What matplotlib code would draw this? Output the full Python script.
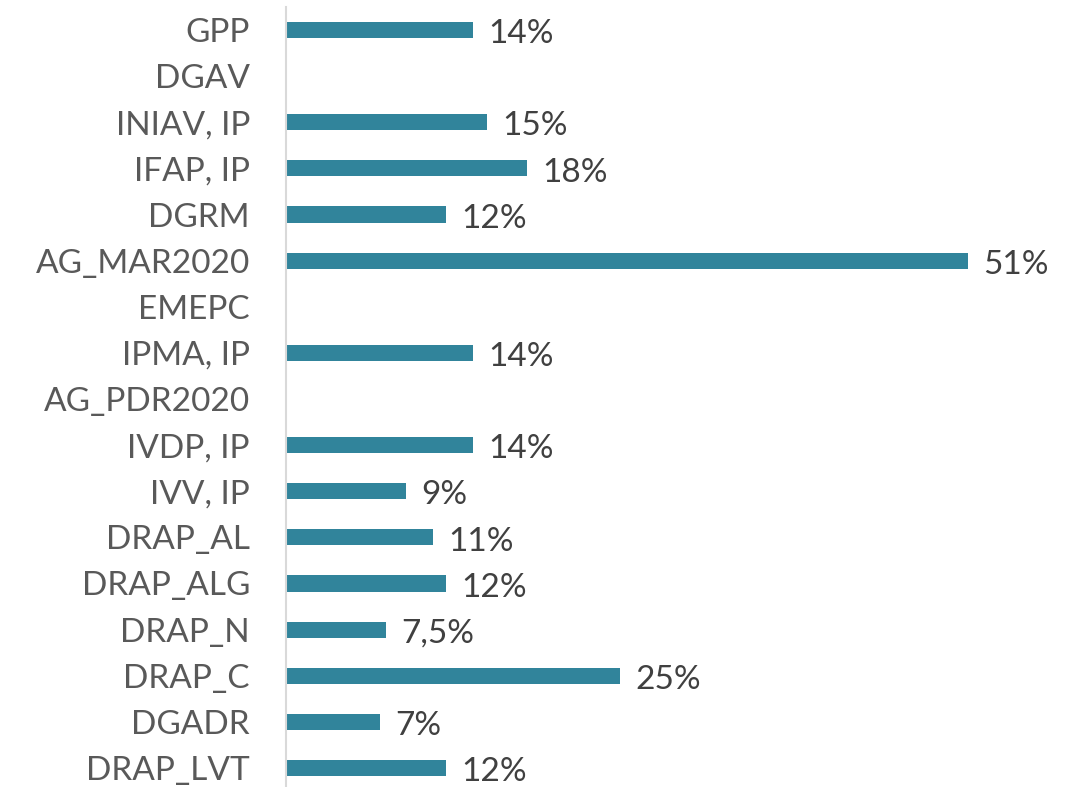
import matplotlib
matplotlib.use("Agg")
import matplotlib.pyplot as plt

categories = ["GPP", "DGAV", "INIAV, IP", "IFAP, IP", "DGRM", "AG_MAR2020", "EMEPC",
              "IPMA, IP", "AG_PDR2020", "IVDP, IP", "IVV, IP", "DRAP_AL", "DRAP_ALG",
              "DRAP_N", "DRAP_C", "DGADR", "DRAP_LVT"]
values = [14, None, 15, 18, 12, 51, None, 14, None, 14, 9, 11, 12, 7.5, 25, 7, 12]
labels = ["14%", "", "15%", "18%", "12%", "51%", "", "14%", "", "14%", "9%", "11%",
          "12%", "7,5%", "25%", "7%", "12%"]

plt.rcParams['font.family'] = ['Lato', 'DejaVu Sans']

fig = plt.figure(figsize=(10.92, 7.87), dpi=100)
ax = fig.add_axes([286 / 1092, -4 / 787, 754 / 1092, 784 / 787])

bar_color = '#31849B'
for i, (v, lab) in enumerate(zip(values, labels)):
    if v is None:
        continue
    ax.barh(i, v, height=0.35, color=bar_color)
    ax.annotate(lab, (v, i), xytext=(11, -3), textcoords='offset points',
                ha='left', va='center', fontsize=24, color='#404040')

ax.set_yticks(range(len(categories)))
ax.set_yticklabels(categories, fontsize=24, color='#595959')
ax.tick_params(axis='y', length=0, pad=26)
ax.set_ylim(len(categories) - 0.5, -0.5)
ax.set_xlim(0, 754 / 13.37)
ax.set_xticks([])

for s in ['top', 'right', 'bottom']:
    ax.spines[s].set_visible(False)
ax.spines['left'].set_color('#D9D9D9')
ax.spines['left'].set_linewidth(1.5)

fig.savefig('out.png', dpi=100)
